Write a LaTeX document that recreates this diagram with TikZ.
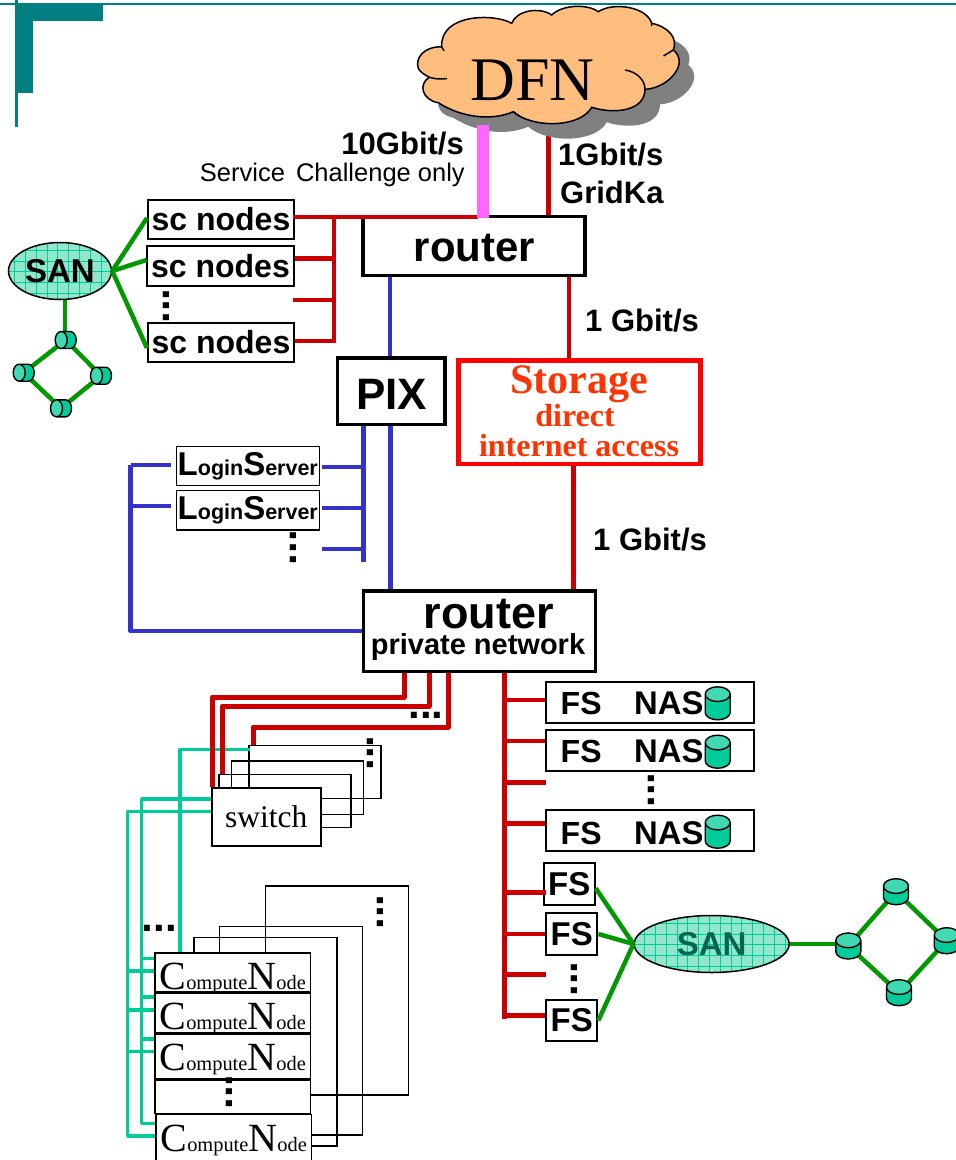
\documentclass[tikz,border=0pt]{standalone}
\usepackage{fontspec}
\setmainfont{Liberation Serif}
\setsansfont{Liberation Sans}
\usepackage{xcolor}
\definecolor{decoteal}{RGB}{0,128,128}
\definecolor{linkred}{RGB}{204,0,0}
\definecolor{linkblue}{RGB}{51,51,204}
\definecolor{linkgreen}{RGB}{0,153,0}
\definecolor{linkteal}{RGB}{0,204,153}
\definecolor{linkpink}{RGB}{255,102,255}
\definecolor{cloudfill}{RGB}{255,190,125}
\definecolor{sanfill}{RGB}{146,230,203}
\definecolor{sandark}{RGB}{0,102,80}
\definecolor{storagetext}{RGB}{255,51,0}
\usetikzlibrary{shapes.geometric,backgrounds}
\newcommand{\fsz}[1]{\fontsize{#1}{#1}\selectfont}
\newcommand{\cloudpath}{(441.7,46.7) .. controls (423.3,46.7) and (415,58.3) .. (418.3,68.3)
  .. controls (420,72) and (425,75) .. (429.3,77.3)
  .. controls (418,84) and (422,100) .. (438.3,102.7)
  .. controls (460,116.7) and (490,121.7) .. (513.3,111.7)
  .. controls (531.7,128.3) and (580,128.3) .. (591.7,107.3)
  .. controls (616.7,115) and (645,110) .. (645,89.3)
  .. controls (668.3,88.3) and (690,63.3) .. (673.3,50)
  .. controls (678.3,38.3) and (668.3,26.7) .. (651.7,23.3)
  .. controls (646.7,6.7) and (613.3,1.7) .. (598.3,11.7)
  .. controls (586.7,3.3) and (561.7,5) .. (551.7,15)
  .. controls (540,6.7) and (516.7,10) .. (511.7,23.3)
  .. controls (495,13.3) and (440,13.3) .. (441.7,46.7) -- cycle}
\newcommand{\computename}{\fsz{40}C\fsz{20.4}ompute\fsz{40}N\fsz{20.4}ode}
\newcommand{\loginname}{\fsz{33}L\fsz{21.5}ogin\fsz{33}S\fsz{21.5}erver}

\begin{document}
\begin{tikzpicture}[x=1pt, y=-1pt, font=\sffamily\bfseries,
  boldtext/.style={font=\sffamily\bfseries\fsz{#1}, anchor=base, inner sep=0pt},
  serifred/.style={font=\rmfamily\bfseries\fsz{#1}, text=storagetext, anchor=base, inner sep=0pt},
  heavybox/.style={draw, line width=3.5pt, fill=white, inner sep=0pt},
  thinbox/.style={draw, line width=1.6pt, fill=white, inner sep=0pt},
  stackbox/.style={draw, line width=1.5pt, inner sep=0pt},
  computebox/.style={thinbox, minimum width=155.5pt, font=\rmfamily, text depth=0pt},
  sanellipse/.style={ellipse, draw, line width=1.5pt, fill=sanfill, inner sep=0pt,
    path picture={\draw[linkteal, line width=0.4pt] (path picture bounding box.south west)
      grid[step=10.8pt] (path picture bounding box.north east);}},
  disk/.style={cylinder, draw, line width=1.4pt, anchor=shape center,
    cylinder uses custom fill, cylinder body fill=linkteal, cylinder end fill=linkteal!75!white},
  vdisk/.style={disk, aspect=0.64, inner xsep=11.5pt, inner ysep=0pt, shape border rotate=90},
  hdisk/.style={disk, aspect=0.75, inner xsep=0pt, inner ysep=8pt, shape border rotate=180, minimum height=21pt, minimum width=17pt},
  hdotsnode/.style={font=\sffamily\bfseries\fsz{42}, anchor=base, inner sep=0pt},
  vdotsnode/.style={hdotsnode, rotate=90},
  redlink/.style={linkred, line width=4.5pt},
  redwide/.style={linkred, line width=5pt, line join=round},
  bluelink/.style={linkblue, line width=4.5pt},
  greenlink/.style={linkgreen, line width=4.5pt},
  teallink/.style={linkteal, line width=3.5pt}]
\useasboundingbox (0,0) rectangle (956,1160);
% corner decoration
\fill[decoteal] (0,2.5) rectangle (956,4.7);
\fill[decoteal] (15,0) rectangle (17.5,127);
\fill[decoteal] (15,5) rectangle (33,93);
\fill[decoteal] (15,5) rectangle (103,21);
% cloud
\coordinate (dfnpink) at (483,125);
\coordinate (dfnred) at (548.5,130);
\node[heavybox, minimum width=222pt, minimum height=59pt] (router1) at (474,246) {};
\draw[redlink] (dfnred) -- (dfnred |- router1.north);
\fill[black!50, xshift=15pt, yshift=-15pt] \cloudpath;
\draw[line width=1.5pt, fill=cloudfill] \cloudpath;
\draw[line width=1.5pt] (429.3,77.3) .. controls (435,79) and (441,79.5) .. (447,78.5);
\draw[line width=1.5pt] (625,70) .. controls (636.7,71.7) and (645,80) .. (645,89.3);
\draw[line width=1.5pt] (673.3,50) -- (663.5,56);
\draw[line width=1.5pt] (513.3,111.7) -- (520,116.5);
\draw[line width=1.5pt] (441.7,46.7) -- (444,51);
\draw[line width=1.5pt] (651.7,23.3) -- (651.5,26);
\node[font=\rmfamily\fsz{62}, anchor=base, inner sep=0pt] (dfn) at (532.5,100) {DFN};
% upper router
\node[boldtext=42] (router1text) at (474.5,261.5) {router};
\node[boldtext=31, anchor=base east] (tengbit) at (464,154) {10Gbit/s};
\node[font=\sffamily\fsz{25.5}, anchor=base east, inner sep=0pt] (challenge) at (465,181.7) {Service\hspace{4pt} Challenge only};
\node[boldtext=31, anchor=base west] (onegbit) at (558,165.7) {1Gbit/s};
\node[boldtext=31, anchor=base west] (gridka) at (560,203) {GridKa};
% sc nodes and SAN
\node[thinbox, minimum width=146.5pt, minimum height=39.5pt, font=\sffamily\bfseries\fsz{32}] (sc1) at (221,219.5) {sc nodes};
\node[thinbox, minimum width=146.5pt, minimum height=39.5pt, font=\sffamily\bfseries\fsz{32}] (sc2) at (220.5,266) {sc nodes};
\node[thinbox, minimum width=146.5pt, minimum height=39.5pt, font=\sffamily\bfseries\fsz{32}] (sc3) at (221,342.5) {sc nodes};
\node[vdotsnode] (scdots) at (169.2,306) {...};
\coordinate (scbus) at (334,217);
\coordinate (scbusend) at (334,343);
\coordinate (scfree) at (293,300);
\draw[redlink] (scbus) -- (scbusend);
\draw[redlink] ([yshift=7.5pt]sc2.east) -| (scbus);
\draw[redlink] (scfree) -| (scbus);
\draw[redlink] ([yshift=1.5pt]sc3.east) -| (scbus);
\coordinate (pinkfoot) at (478,217);
\draw[redlink] ([xshift=-2pt,yshift=2.5pt]sc1.east) -- (pinkfoot);
\draw[linkpink, line width=12pt] (dfnpink) -- ([yshift=-3.3pt]dfnpink |- router1.north);
\node[sanellipse, minimum width=103pt, minimum height=57pt, font=\sffamily\bfseries\fsz{33}] (san1) at (60,271) {SAN};
\node[hdisk] (ring1a) at (65.7,340) {};
\node[hdisk] (ring1b) at (23.7,372.7) {};
\node[hdisk] (ring1c) at (101,375.7) {};
\node[hdisk] (ring1d) at (61,408.3) {};
\draw[greenlink] (san1.east) -- ([yshift=1.5pt]sc1.west);
\draw[greenlink] (san1.east) -- ([yshift=6pt]sc2.west);
\draw[greenlink] (san1.east) -- ([yshift=-5.5pt]sc3.west);
\begin{scope}[on background layer]
\draw[greenlink] ([xshift=5pt]san1.south) -- ([xshift=5pt]san1.south |- ring1a.shape center);
\draw[greenlink] (ring1a.shape center) -- (ring1b.shape center);
\draw[greenlink] (ring1b.shape center) -- (ring1d.shape center);
\draw[greenlink] (ring1d.shape center) -- (ring1c.shape center);
\draw[greenlink] (ring1c.shape center) -- (ring1a.shape center);
\end{scope}
% firewall and storage
\node[heavybox, minimum width=107.5pt, minimum height=66.5pt] (pix) at (391,391) {};
\node[boldtext=44] (pixtext) at (391.5,409) {PIX};
\node[draw=red, line width=4.5pt, fill=white, minimum width=242pt, minimum height=103.5pt, inner sep=0pt] (storage) at (579.3,412) {};
\node[serifred=42] (storagetitle) at (579,393) {Storage};
\node[serifred=32] (storagedirect) at (575,426) {direct};
\node[serifred=32] (storageaccess) at (579,456.7) {internet access};
\draw[bluelink] ([xshift=-84pt]router1.south) -- (pix.north -| 390,0);
\draw[redlink] ([xshift=95pt]router1.south) -- ([xshift=95pt]router1.south |- storage.north);
\node[boldtext=31, anchor=base west] (rate1) at (585,331) {1 Gbit/s};
\node[boldtext=31, anchor=base west] (rate2) at (593,550) {1 Gbit/s};
% login servers
\node[thinbox, minimum width=143pt, minimum height=39.3pt] (login1) at (247.8,466) {\loginname};
\node[thinbox, minimum width=143pt, minimum height=39.3pt] (login2) at (247.8,510.3) {\loginname};
\node[vdotsnode] (logindots) at (296.5,547.5) {...};
% lower router
\node[heavybox, minimum width=232pt, minimum height=80.5pt] (router2) at (479.7,631) {};
\node[boldtext=45] (router2text) at (489,628) {router};
\node[boldtext=29] (router2sub) at (478,654) {private network};
\draw[bluelink] (pix.south -| 390.5,0) -- (router2.north -| 390.5,0);
\draw[redlink] (storage.south -| 573.7,0) -- (router2.north -| 573.7,0);
\coordinate (pixbus) at (363.4,426);
\coordinate (pixbusend) at (363.4,562);
\coordinate (loginfree) at (322,549);
\draw[bluelink] (pixbus) -- (pixbusend);
\draw[bluelink] ([xshift=2pt,yshift=-1pt]login1.east) -| (pixbus);
\draw[bluelink] ([xshift=2pt,yshift=2.3pt]login2.east) -| (pixbus);
\draw[bluelink] (loginfree) -| (pixbus);
\coordinate (loginbus) at (130.5,465);
\draw[bluelink, line join=round] (router2.west) -| (loginbus);
\draw[bluelink] ([xshift=-4.5pt,yshift=1pt]login1.west) -- (loginbus);
\draw[bluelink] ([xshift=-4.5pt,yshift=4.3pt]login2.west) -| (loginbus);
% switches
\node[stackbox, minimum width=132pt, minimum height=53pt] (switch2) at (285,801.2) {};
\node[stackbox, minimum width=132pt, minimum height=53.5pt] (switch3) at (297.3,787.5) {};
\node[stackbox, minimum width=132pt, minimum height=53pt] (switch4) at (315,771.9) {};
\node[vdotsnode] (switchdots) at (373.2,753) {...};
% compute nodes
\node[stackbox, minimum width=143pt, minimum height=209pt] (cnback1) at (337.2,990.4) {};
\node[stackbox, minimum width=143pt, minimum height=208.5pt] (cnback2) at (291.2,1030.7) {};
\node[stackbox, minimum width=143pt, minimum height=208.5pt] (cnback3) at (265.5,1041.7) {};
\node[computebox, minimum height=39.2pt, text height=34pt] (cn1) at (232.7,972.3) {\computename};
\node[computebox, minimum height=39pt, text height=34pt] (cn2) at (232.7,1012.8) {\computename};
\node[computebox, minimum height=45pt, text height=27.4pt] (cn3) at (232.7,1056.3) {\computename};
\node[thinbox, minimum width=155.5pt, minimum height=33pt] (cnblank) at (232.7,1097) {};
\node[computebox, minimum height=50pt, text height=24.8pt] (cn4) at (233.7,1139.3) {\computename};
\node[vdotsnode] (cnblankdots) at (232.5,1092) {...};
\node[vdotsnode] (cnbackdots) at (383.5,912) {...};
\node[hdotsnode] (cnhdots) at (159.3,931) {...};
\node[thinbox, minimum width=109pt, minimum height=58pt, font=\rmfamily\mdseries\fsz{31.5}] (switch) at (266.2,817.2) {switch\hspace{5pt}};
% teal links
\coordinate (tealbusa) at (141.7,1000);
\coordinate (tealbusb) at (127.7,1000);
\draw[teallink, line join=round] ([xshift=1.7pt,yshift=22.6pt]switch4.west) -| ([xshift=-52.7pt]cn1.north);
\draw[teallink, line join=round] ([yshift=18.2pt]switch.west) -| (tealbusa) |- ([yshift=16pt]cn4.west);
\draw[teallink, line join=round] ([yshift=5.5pt]switch.west) -| (tealbusb) |- ([yshift=3.3pt]cn4.west);
\draw[teallink] ([yshift=14pt]cn1.west) -| (tealbusa);
\draw[teallink] ([yshift=1.3pt]cn1.west) -| (tealbusb);
\draw[teallink] ([yshift=15.8pt]cn2.west) -| (tealbusa);
\draw[teallink] ([yshift=2.8pt]cn2.west) -| (tealbusb);
\draw[teallink] ([yshift=17.3pt]cn3.west) -| (tealbusa);
\draw[teallink] ([yshift=4.6pt]cn3.west) -| (tealbusb);
% red links to switches
\draw[redwide] ([xshift=-75.7pt]router2.south) -- ++(0,24) -| ([xshift=1.7pt]switch.north west);
\draw[redwide] ([xshift=-50.4pt]router2.south) -- ++(0,33) -| ([xshift=4pt]switch2.north west);
\draw[redwide] ([xshift=-31.7pt]router2.south) -- ++(0,54) -| ([xshift=5pt]switch4.north west);
\node[hdotsnode] (routerdots) at (426,718) {...};
% file servers
\node[thinbox, line width=2pt, minimum width=208pt, minimum height=41pt] (nas1) at (650,702.5) {};
\node[thinbox, line width=2pt, minimum width=208pt, minimum height=41pt] (nas2) at (650,750.7) {};
\node[thinbox, line width=2pt, minimum width=208pt, minimum height=41pt] (nas3) at (650,830.7) {};
\node[boldtext=32, anchor=base west] (nas1fs) at (560.5,714.3) {FS};
\node[boldtext=32, anchor=base west] (nas2fs) at (560.5,762.3) {FS};
\node[boldtext=32, anchor=base west] (nas3fs) at (560.5,844) {FS};
\node[boldtext=32.8, anchor=base west] (nas1nas) at (634,714.3) {NAS};
\node[boldtext=32.8, anchor=base west] (nas2nas) at (634,762.3) {NAS};
\node[boldtext=32.8, anchor=base west] (nas3nas) at (634,844) {NAS};
\node[vdisk, minimum height=33pt, minimum width=25pt] (nas1disk) at (717.7,703.3) {};
\node[vdisk, minimum height=33pt, minimum width=25pt] (nas2disk) at (717.7,751.7) {};
\node[vdisk, minimum height=33pt, minimum width=25pt] (nas3disk) at (717.7,831.7) {};
\node[vdotsnode] (nasdots) at (654.5,790) {...};
\node[thinbox, line width=2pt, minimum width=51pt, minimum height=41.7pt, font=\sffamily\bfseries\fsz{33}] (fs1) at (569.2,884.2) {FS};
\node[thinbox, line width=2pt, minimum width=51.3pt, minimum height=41.4pt, font=\sffamily\bfseries\fsz{33}] (fs2) at (571.7,934) {FS};
\node[thinbox, line width=2pt, minimum width=51.3pt, minimum height=41pt, font=\sffamily\bfseries\fsz{33}] (fs3) at (571.7,1020.5) {FS};
\node[vdotsnode] (fsdots) at (577.5,979) {...};
\coordinate (nasbus) at (504.3,673);
\coordinate (nasbusend) at (504.3,1018.5);
\coordinate (nasfree) at (546,782.7);
\coordinate (fsfree) at (546,974.3);
\draw[redlink] (nasbus) -- (nasbusend);
\draw[redlink] ([yshift=2.5pt]nas1.west) -| (nasbus);
\draw[redlink] ([yshift=9.7pt]nas2.west) -| (nasbus);
\draw[redlink] (nasfree) -| (nasbus);
\draw[redlink] ([yshift=7.4pt]nas3.west) -| (nasbus);
\draw[redlink] ([xshift=3pt,yshift=-8.1pt]fs1.west) -| (nasbus);
\draw[redlink] (fs2.west) -| (nasbus);
\draw[redlink] (fsfree) -| (nasbus);
\draw[redlink] ([yshift=4.8pt]fs3.west) -| (nasbus);
\node[sanellipse, minimum width=155pt, minimum height=57pt, text=sandark, font=\sffamily\bfseries\fsz{33}] (san2) at (711.7,944) {SAN};
\node[vdisk, minimum height=26pt, minimum width=25pt] (ring2a) at (848.3,946) {};
\node[vdisk, minimum height=26pt, minimum width=25pt] (ring2b) at (896,891.7) {};
\node[vdisk, minimum height=26pt, minimum width=25pt] (ring2c) at (946.7,940.7) {};
\node[vdisk, minimum height=26pt, minimum width=25pt] (ring2d) at (899,992.7) {};
\draw[greenlink] ([yshift=-4pt]fs1.east) -- (san2.west);
\draw[greenlink] (fs2.east) -- (san2.west);
\draw[greenlink] (fs3.east) -- (san2.west);
\begin{scope}[on background layer]
\draw[greenlink] (san2.east) -- (san2.east -| ring2a.shape center);
\draw[greenlink] (ring2a.shape center) -- (ring2b.shape center);
\draw[greenlink] (ring2b.shape center) -- (ring2c.shape center);
\draw[greenlink] (ring2c.shape center) -- (ring2d.shape center);
\draw[greenlink] (ring2d.shape center) -- (ring2a.shape center);
\end{scope}
\end{tikzpicture}
\end{document}
